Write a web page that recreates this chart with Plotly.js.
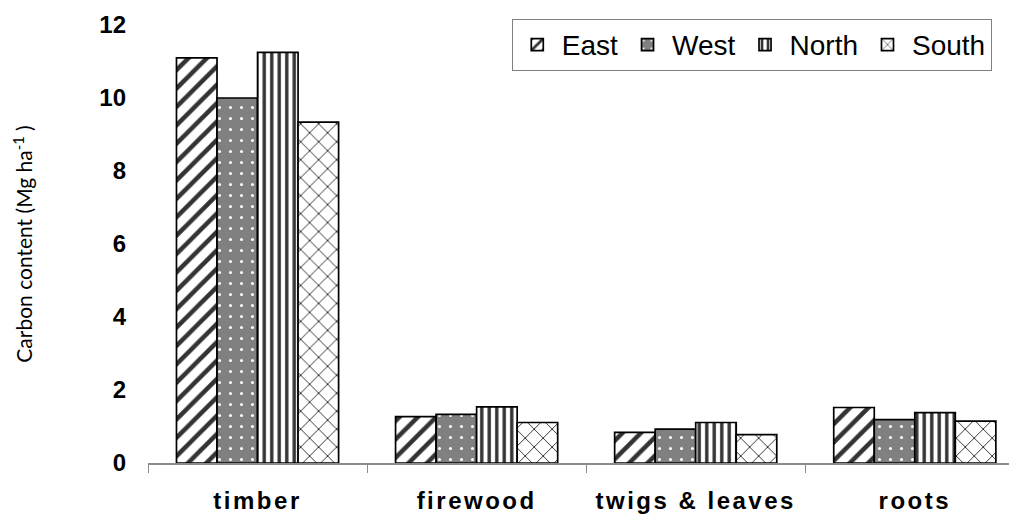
<!DOCTYPE html>
<html>
<head>
<meta charset="utf-8">
<script src="https://cdn.plot.ly/plotly-3.0.1.min.js"></script>
<style>
html,body{margin:0;padding:0;background:#fff;}
#chart{width:1009px;height:516px;}
#chart .xtick text{letter-spacing:2.5px;}
</style>
</head>
<body>
<div id="chart"></div>
<script>
var categories = ["timber", "firewood", "twigs & leaves", "roots"];
var seriesNames = ["East", "West", "North", "South"];
var east = [11.1, 1.27, 0.84, 1.52];
var west = [10.0, 1.33, 0.93, 1.19];
var north = [11.25, 1.54, 1.11, 1.38];
var south = [9.34, 1.11, 0.78, 1.15];
var yTicks = [0, 2, 4, 6, 8, 10, 12];

var patterns = [
  {shape: "/", fgcolor: "#333333", bgcolor: "#ffffff", fgopacity: 1, size: 13, solidity: 0.35, fillmode: "replace"},
  {shape: ".", fgcolor: "#ffffff", bgcolor: "#808080", fgopacity: 1, size: 11, solidity: 0.06, fillmode: "replace"},
  {shape: "|", fgcolor: "#333333", bgcolor: "#ffffff", fgopacity: 1, size: 7.5, solidity: 0.45, fillmode: "replace"},
  {shape: "x", fgcolor: "#000000", bgcolor: "#ffffff", fgopacity: 1, size: 12.7, solidity: 0.12, fillmode: "replace"}
];
var values = [east, west, north, south];

var traces = values.map(function (v, i) {
  return {
    type: "bar",
    name: seriesNames[i],
    x: categories,
    y: v,
    marker: {color: "#ffffff", pattern: patterns[i], line: {color: "#000000", width: 1.7}}
  };
});

var layout = {
  width: 1009, height: 516,
  margin: {l: 148, r: 0, t: 25, b: 53},
  paper_bgcolor: "#ffffff", plot_bgcolor: "#ffffff",
  barmode: "group",
  bargap: 0.26, bargroupgap: 0,
  showlegend: true,
  legend: {
    orientation: "h", x: 0.980, xanchor: "right", y: 1.014, yanchor: "top",
    font: {family: "Arial, Liberation Sans, sans-serif", size: 28, color: "#000"},
    bordercolor: "#808080", borderwidth: 1, bgcolor: "#ffffff",
    traceorder: "normal", itemwidth: 39
  },
  xaxis: {
    type: "category",
    range: [-0.5, 3.43],
    showline: true, linecolor: "#8c8c8c", linewidth: 1.5,
    ticks: "outside", tickson: "boundaries", ticklen: 8, tickcolor: "#8c8c8c",
    tickfont: {family: "Arial, Liberation Sans, sans-serif", size: 24, color: "#000", weight: "bold"},
    ticklabelstandoff: 16,
    showgrid: false, zeroline: false, fixedrange: true
  },
  yaxis: {
    range: [0, 12],
    tickvals: yTicks,
    showline: false, ticks: "", showgrid: false, zeroline: false,
    tickfont: {family: "Arial, Liberation Sans, sans-serif", size: 24, color: "#000", weight: "bold"},
    ticklabelstandoff: 21,
    title: {text: "Carbon content (Mg ha<sup>-1</sup> )", font: {family: "Lato, Open Sans, sans-serif", size: 21, color: "#000"}, standoff: 60},
    fixedrange: true
  }
};

Plotly.newPlot("chart", traces, layout, {displayModeBar: false, staticPlot: true});
</script>
</body>
</html>
